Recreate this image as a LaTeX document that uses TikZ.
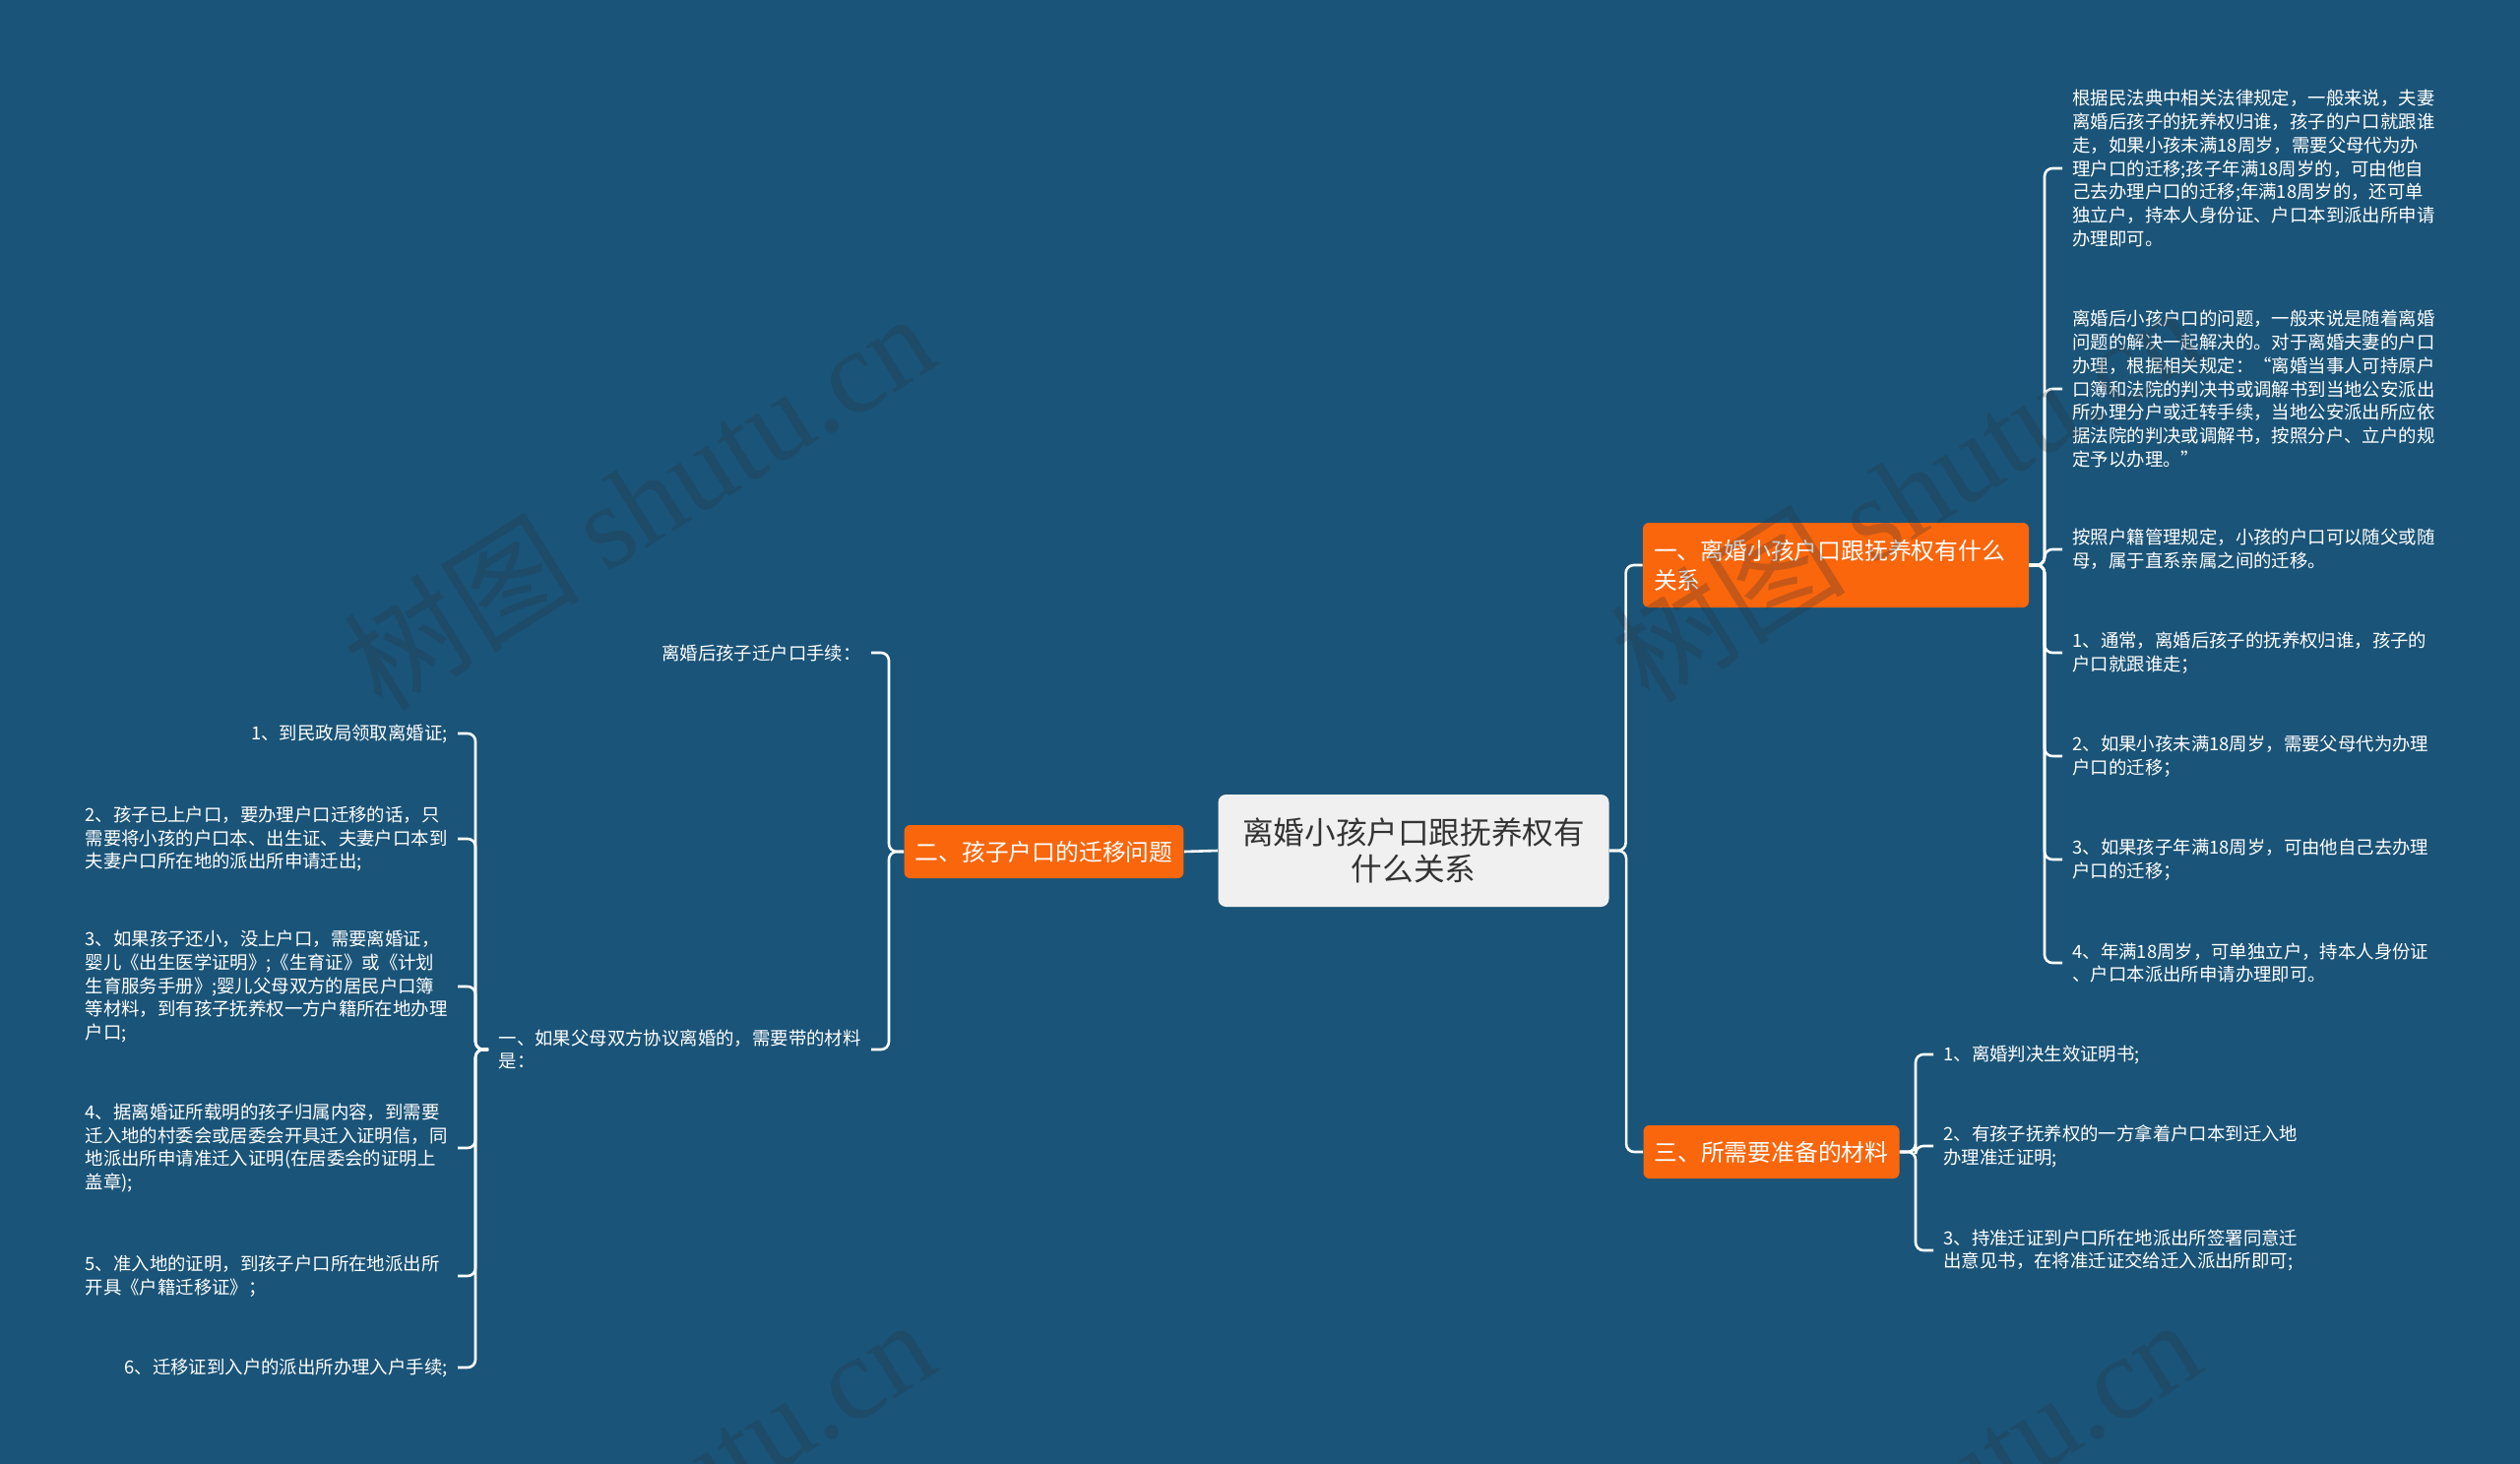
\documentclass[tikz,border=0pt]{standalone}
\usepackage{fontspec}
\setmainfont{Noto Sans CJK SC}
\newfontfamily\wmserif{Liberation Serif}
\usetikzlibrary{calc}
\definecolor{bg}{RGB}{26,84,120}
\definecolor{org}{RGB}{250,102,12}
\definecolor{ctr}{RGB}{240,240,240}
\definecolor{ctrtext}{RGB}{51,51,51}
\definecolor{wmc}{RGB}{40,50,60}
\begin{document}
\begin{tikzpicture}[x=0.5pt,y=-0.5pt,
  conn/.style={draw=white, line width=1.3pt, rounded corners=4pt},
  centre/.style={fill=ctr, rounded corners=4pt, text=ctrtext, font=\fontsize{15.8pt}{18.5pt}\selectfont, align=center, minimum width=198.5pt, minimum height=57pt, inner sep=0pt},
  topic/.style={fill=org, rounded corners=3pt, text=white, font=\fontsize{11.9pt}{15pt}\selectfont, inner xsep=5.5pt, inner ysep=0pt, minimum height=27pt},
  leaf/.style={text=white, font=\fontsize{9.2pt}{11.85pt}\selectfont, align=left, inner xsep=5pt, inner ysep=2pt},
  wide/.style={text width=184pt},
  wmark/.style={text=wmc, text opacity=0.25, font=\fontsize{60pt}{60pt}\selectfont, rotate=32, inner sep=0pt},
]
\useasboundingbox (0,0) rectangle (2560,1487);
\fill[bg] (0,0) rectangle (2560,1487);

% central and topics
\node[centre] (c) at (1436,864) {离婚小孩户口跟抚养权有\\什么关系};
\node[topic] (b2) at (1060.5,865) {二、孩子户口的迁移问题};
\node[topic, text width=185pt, align=left, minimum height=43pt] (b1) at (1865,574) {一、离婚小孩户口跟抚养权有什么\\关系};
\node[topic] (b3) at (1799.5,1170) {三、所需要准备的材料};

% right leaves of b1
\node[leaf, anchor=west] (r1) at (2095,171) {根据民法典中相关法律规定，一般来说，夫妻\\离婚后孩子的抚养权归谁，孩子的户口就跟谁\\走，如果小孩未满18周岁，需要父母代为办\\理户口的迁移;孩子年满18周岁的，可由他自\\己去办理户口的迁移;年满18周岁的，还可单\\独立户，持本人身份证、户口本到派出所申请\\办理即可。};
\node[leaf, anchor=west] (r2) at (2095,395) {离婚后小孩户口的问题，一般来说是随着离婚\\问题的解决一起解决的。对于离婚夫妻的户口\\办理，根据相关规定：“离婚当事人可持原户\\口簿和法院的判决书或调解书到当地公安派出\\所办理分户或迁转手续，当地公安派出所应依\\据法院的判决或调解书，按照分户、立户的规\\定予以办理。”};
\node[leaf, anchor=west] (r3) at (2095,558) {按照户籍管理规定，小孩的户口可以随父或随\\母，属于直系亲属之间的迁移。};
\node[leaf, anchor=west] (r4) at (2095,663) {1、通常，离婚后孩子的抚养权归谁，孩子的\\户口就跟谁走；};
\node[leaf, anchor=west] (r5) at (2095,768) {2、如果小孩未满18周岁，需要父母代为办理\\户口的迁移；};
\node[leaf, anchor=west] (r6) at (2095,873) {3、如果孩子年满18周岁，可由他自己去办理\\户口的迁移；};
\node[leaf, anchor=west] (r7) at (2095,978) {4、年满18周岁，可单独立户，持本人身份证\\、户口本派出所申请办理即可。};

% leaves of b3
\node[leaf, anchor=west] (m1) at (1964,1071) {1、离婚判决生效证明书;};
\node[leaf, anchor=west] (m2) at (1964,1164) {2、有孩子抚养权的一方拿着户口本到迁入地\\办理准迁证明;};
\node[leaf, anchor=west] (m3) at (1964,1270) {3、持准迁证到户口所在地派出所签署同意迁\\出意见书，在将准迁证交给迁入派出所即可;};

% left children of b2
\node[leaf, anchor=east] (l0) at (885,663) {离婚后孩子迁户口手续：};
\node[leaf, wide, anchor=east] (lu) at (885,1066) {一、如果父母双方协议离婚的，需要带的材料\\是：};

% leaves of lu
\node[leaf, anchor=east] (p1) at (465,745) {1、到民政局领取离婚证;};
\node[leaf, wide, anchor=east] (p2) at (465,852) {2、孩子已上户口，要办理户口迁移的话，只\\需要将小孩的户口本、出生证、夫妻户口本到\\夫妻户口所在地的派出所申请迁出;};
\node[leaf, wide, anchor=east] (p3) at (465,1002) {3、如果孩子还小，没上户口，需要离婚证，\\婴儿《出生医学证明》;《生育证》或《计划\\生育服务手册》;婴儿父母双方的居民户口簿\\等材料，到有孩子抚养权一方户籍所在地办理\\户口;};
\node[leaf, wide, anchor=east] (p4) at (465,1166) {4、据离婚证所载明的孩子归属内容，到需要\\迁入地的村委会或居委会开具迁入证明信，同\\地派出所申请准迁入证明(在居委会的证明上\\盖章);};
\node[leaf, wide, anchor=east] (p5) at (465,1296) {5、准入地的证明，到孩子户口所在地派出所\\开具《户籍迁移证》；};
\node[leaf, anchor=east] (p6) at (465,1389) {6、迁移证到入户的派出所办理入户手续;};

% connectors
\draw[conn] (c.west) -- (b2.east);
\draw[conn] (c.east) -| ([xshift=-8.5pt]b1.west) -- (b1.west);
\draw[conn] (c.east) -| ([xshift=-8.5pt]b3.west) -- (b3.west);
\foreach \n in {r1,r2,r3,r4,r5,r6,r7}
  \draw[conn] (b1.east) -| ([xshift=-9pt]\n.west) -- (\n.west);
\foreach \n in {m1,m2,m3}
  \draw[conn] (b3.east) -| ([xshift=-9pt]\n.west) -- (\n.west);
\foreach \n in {l0,lu}
  \draw[conn] (b2.west) -| ([xshift=9pt]\n.east) -- (\n.east);
\foreach \n in {p1,p2,p3,p4,p5,p6}
  \draw[conn] (lu.west) -| ([xshift=9pt]\n.east) -- (\n.east);

% watermarks
\begin{scope}
\clip (0,0) rectangle (2560,1487);
\node[wmark] (wm1) at (649,508) {树图 {\wmserif shutu.cn}};
\node[wmark] (wm2) at (1935,500) {树图 {\wmserif shutu.cn}};
\node[wmark] (wm3) at (649,1530) {树图 {\wmserif shutu.cn}};
\node[wmark] (wm4) at (1935,1530) {树图 {\wmserif shutu.cn}};
\end{scope}
\end{tikzpicture}
\end{document}
